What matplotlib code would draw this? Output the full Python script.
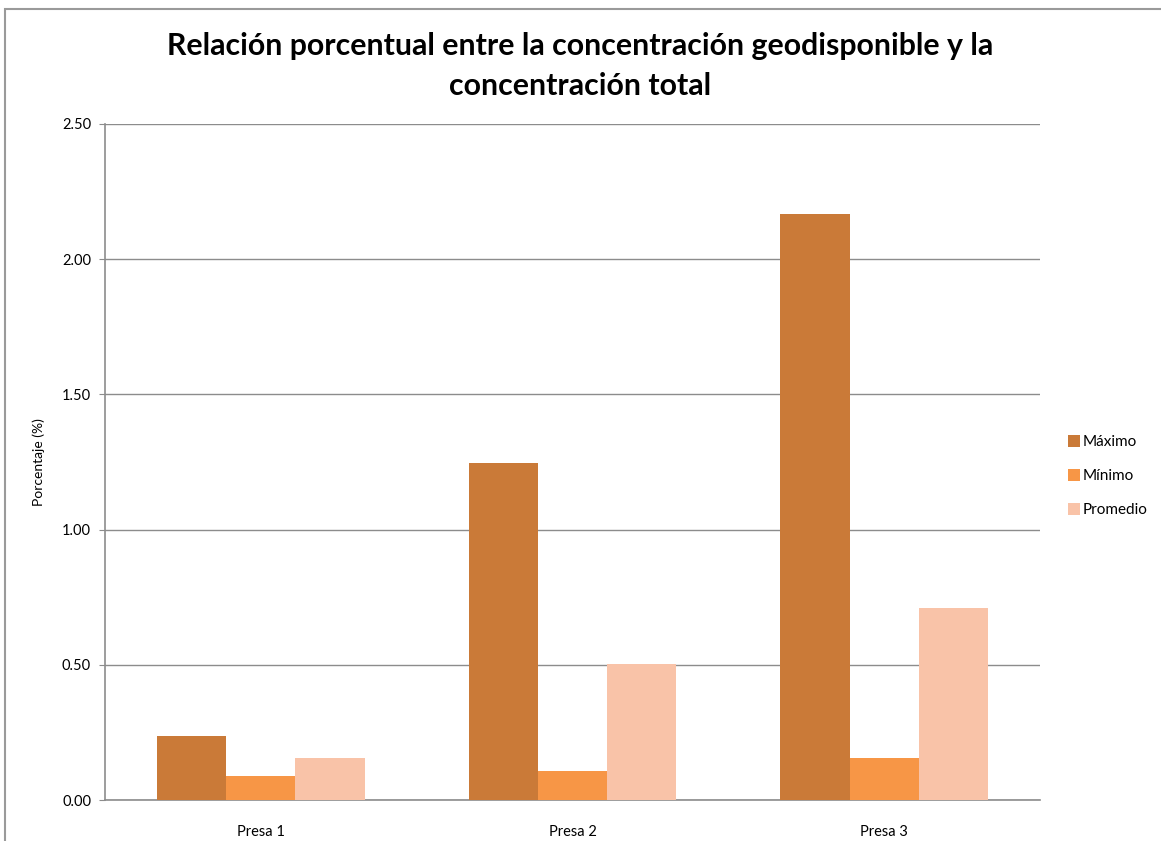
import matplotlib
matplotlib.use("Agg")
import matplotlib.pyplot as plt
import numpy as np
from matplotlib.patches import Rectangle

categories = ["Presa 1", "Presa 2", "Presa 3"]
series_names = ["Máximo", "Mínimo", "Promedio"]
maximo = [0.237, 1.246, 2.167]
minimo = [0.089, 0.107, 0.155]
promedio = [0.155, 0.503, 0.710]
yticks = [0.0, 0.5, 1.0, 1.5, 2.0, 2.5]
colors = ["#CA7A38", "#F79646", "#F9C3A8"]

plt.rcParams['font.family'] = ['Lato', 'DejaVu Sans']

fig = plt.figure(figsize=(11.61, 8.41), dpi=100)
W, H = 1161, 841
ax = fig.add_axes([105 / W, 1 - 800 / H, (1040 - 105) / W, (800 - 124) / H])

# outer chart border
fig.add_artist(Rectangle((5 / W, -0.05), 1.2, 1 - 9 / H + 0.05, transform=fig.transFigure,
                         fill=False, edgecolor="#9A9A9A", linewidth=1.5))

x = np.arange(len(categories))
bw = 0.222
for i, (vals, name) in enumerate(zip([maximo, minimo, promedio], series_names)):
    ax.bar(x + (i - 1) * bw, vals, width=bw, color=colors[i], label=name, zorder=3)

ax.set_xlim(-0.5, 2.5)
ax.set_ylim(0, 2.5)
ax.set_yticks(yticks)
ax.set_yticklabels([f"{v:.2f}" for v in yticks], fontsize=10.5)
ax.set_xticks(x)
ax.set_xticklabels(categories, fontsize=10.5)
ax.tick_params(axis='x', length=0, pad=18)
ax.tick_params(axis='y', length=4, color="#8C8C8C", pad=6)
ax.grid(axis='y', color="#8C8C8C", linewidth=1, zorder=0)
for s in ["top", "right"]:
    ax.spines[s].set_visible(False)
for s in ["left", "bottom"]:
    ax.spines[s].set_color("#8C8C8C")
    ax.spines[s].set_linewidth(1.2)
ax.set_ylabel("Porcentaje (%)", fontsize=10, labelpad=12)

fig.text(0.5, 1 - 66 / H, "Relación porcentual entre la concentración geodisponible y la\nconcentración total",
         ha="center", va="center", fontsize=21.8, fontweight="bold", linespacing=1.5)

ax.legend(loc="center left", bbox_to_anchor=(1.015, 0.479), frameon=False, fontsize=11,
          handlelength=0.8, handleheight=0.8, handletextpad=0.2, labelspacing=1.3)

fig.savefig("out.png", dpi=100)
